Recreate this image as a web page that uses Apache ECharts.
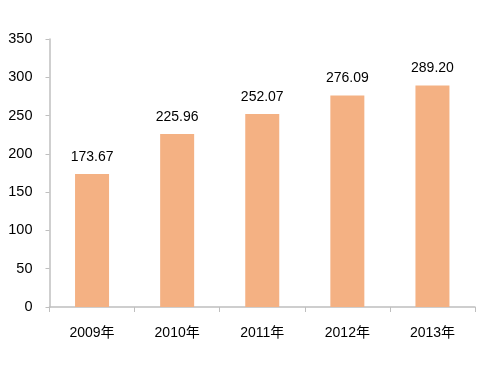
<!DOCTYPE html>
<html><head><meta charset="utf-8">
<script src="https://cdn.jsdelivr.net/npm/echarts@6/dist/echarts.min.js"></script>
<style>html,body{margin:0;padding:0;background:#fff}#c{width:483px;height:365px}</style>
</head><body><div id="c"></div>
<script>
const categories = ['2009年','2010年','2011年','2012年','2013年'];
const values = [173.67, 225.96, 252.07, 276.09, 289.20];
const yTicks = [0,50,100,150,200,250,300,350];

const chart = echarts.init(document.getElementById('c'));
chart.setOption({
  animation:false,
  grid:{left:49.5,right:8,top:39,bottom:58},
  xAxis:{type:'category',data:categories,
    axisLine:{lineStyle:{color:'#bfbfbf',width:1.5}},
    axisTick:{show:true,length:5,lineStyle:{color:'#bfbfbf'}},
    axisLabel:{color:'#000',fontFamily:'Liberation Sans, Noto Sans CJK SC',fontSize:14,margin:19}
  },
  yAxis:{type:'value',min:0,max:350,interval:50,
    axisLine:{show:true,lineStyle:{color:'#bfbfbf',width:1.5}},
    axisTick:{show:true,length:4,lineStyle:{color:'#bfbfbf'}},
    splitLine:{show:false},
    axisLabel:{color:'#000',fontFamily:'Liberation Sans',fontSize:14.5,margin:17}
  },
  series:[{type:'bar',data:values,barWidth:34,
    itemStyle:{color:'#F4B183'},
    label:{show:true,position:'top',distance:10,color:'#000',fontFamily:'Liberation Sans',fontSize:14,
      formatter:p=>p.value.toFixed(2)}
  }]
});
</script></body></html>
